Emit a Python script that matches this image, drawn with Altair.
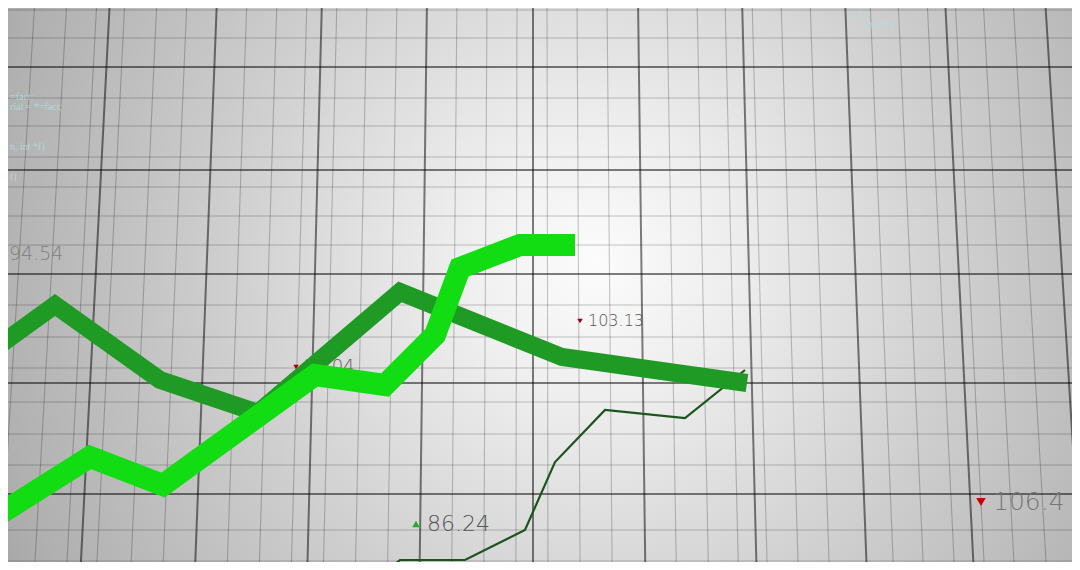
import altair as alt
import pandas as pd

# ---------------- data ----------------
# bright green price line
bright_t = [-10, 90, 163, 315, 385, 435, 460, 520, 575]
bright_v = [520, 457, 485, 375, 385, 335, 268, 245, 245]
# dark green price line
dark_t = [-10, 55, 160, 258, 400, 562, 747]
dark_v = [352, 305, 380, 413, 292, 357, 383]
# thin dark line
thin_t = [385, 400, 465, 525, 555, 605, 685, 745]
thin_v = [572, 560, 560, 530, 462, 410, 418, 370]

# quote labels
quote_text = ["94.54", "86.04", "103.13", "86.24", "106.4"]
quote_t = [9, 303, 588, 427, 993]
quote_v = [254, 367, 321, 524, 502]
quote_dir = ["none", "down", "down", "up", "down"]

# faint code fragments
code_text = ["else", "return f;", "=fact;", "rial = *=fact;", "n, int *f)", "f)"]
code_t = [855, 865, 10, 10, 10, 10]
code_v = [14, 25, 97, 107, 147, 177]

# grid lines (positions at the top edge for verticals)
major_vx = [5, 110, 217, 322, 427, 533, 638, 742, 845, 945, 1045]
minor_vx = [35, 67, 97, 125, 157, 187, 247, 277, 307, 337, 367, 397, 457, 487,
            517, 547, 577, 607, 667, 697, 725, 752, 781, 810, 870, 898, 927,
            955, 983, 1013, 1072]
major_hy = [67, 170, 274, 383, 494]
minor_hy = [10, 38, 98, 126, 157, 187, 216, 245, 305, 337, 368, 402, 434, 465,
            530, 561]

# ---------------- chart setup ----------------
W, H = 1064, 554
X0, X1 = 8, 1072
Y0, Y1 = 8, 562
xs = alt.Scale(domain=[X0, X1], nice=False, zero=False)
ys = alt.Scale(domain=[Y0, Y1], nice=False, zero=False, reverse=True)

def X(f):
    return alt.X(f, type="quantitative", scale=xs, axis=None)

def Y(f):
    return alt.Y(f, type="quantitative", scale=ys, axis=None)

# background with radial vignette
bg_df = pd.DataFrame({"a": [X0], "b": [X1], "c": [Y0], "d": [Y1]})
bg = alt.Chart(bg_df).mark_rect(
    color=alt.RadialGradient(
        gradient="radial",
        x1=0.55, y1=0.48, r1=0.0,
        x2=0.55, y2=0.48, r2=0.72,
        stops=[
            alt.GradientStop(color="#fcfcfc", offset=0.0),
            alt.GradientStop(color="#eeeeee", offset=0.18),
            alt.GradientStop(color="#cdcdcd", offset=0.5),
            alt.GradientStop(color="#b0b0b0", offset=0.8),
            alt.GradientStop(color="#959595", offset=1.0),
        ],
    )
).encode(x=X("a"), x2="b", y=Y("c"), y2="d")

def vlines(tops):
    rows = []
    for t in tops:
        rows.append({"xt": t, "xb": 533 + (t - 533) * 1.07, "yt": -2, "yb": 572})
    return pd.DataFrame(rows)

def hlines(ys_):
    return pd.DataFrame({"xl": [-5] * len(ys_), "xr": [1085] * len(ys_), "y": ys_})

minor_v = alt.Chart(vlines(minor_vx)).mark_rule(
    color="#000000", opacity=0.22, strokeWidth=1.1, clip=True
).encode(x=X("xt"), x2="xb", y=Y("yt"), y2="yb")
minor_h = alt.Chart(hlines(minor_hy)).mark_rule(
    color="#000000", opacity=0.22, strokeWidth=1.1, clip=True
).encode(x=X("xl"), x2="xr", y=Y("y"))
major_v = alt.Chart(vlines(major_vx)).mark_rule(
    color="#000000", opacity=0.5, strokeWidth=2.0, clip=True
).encode(x=X("xt"), x2="xb", y=Y("yt"), y2="yb")
major_h = alt.Chart(hlines(major_hy)).mark_rule(
    color="#000000", opacity=0.5, strokeWidth=2.0, clip=True
).encode(x=X("xl"), x2="xr", y=Y("y"))

code_df = pd.DataFrame({"t": code_t, "v": code_v, "s": code_text})
code = alt.Chart(code_df).mark_text(
    align="left", baseline="middle", font="Liberation Serif", fontSize=10,
    color="#b4dede", opacity=0.85
).encode(x=X("t"), y=Y("v"), text="s:N")

q = pd.DataFrame({"t": quote_t, "v": quote_v, "s": quote_text, "d": quote_dir})

def qlabel(i, size, color):
    return alt.Chart(q.iloc[[i]]).mark_text(
        align="left", baseline="middle", font="DejaVu Sans", fontWeight=300,
        fontSize=size, color=color
    ).encode(x=X("t"), y=Y("v"), text="s:N")

def qmark(i, shape, size, color, dx):
    d = q.iloc[[i]].copy()
    d["tm"] = d["t"] - dx
    return alt.Chart(d).mark_point(
        shape=shape, filled=True, size=size, color=color, opacity=1
    ).encode(x=X("tm"), y=Y("v"))

labels_back = alt.layer(
    qlabel(1, 18, "#5f5f5f"), qmark(1, "triangle-down", 30, "#b00000", 7),
)
labels_front = alt.layer(
    qlabel(0, 19, "#808080"),
    qlabel(2, 16, "#555555"), qmark(2, "triangle-down", 30, "#9a0000", 8),
    qlabel(3, 22, "#555555"), qmark(3, "triangle-up", 55, "#22b022", 11),
    qlabel(4, 25, "#777777"), qmark(4, "triangle-down", 90, "#cc0000", 12),
)

def series(tt, vv):
    return pd.DataFrame({"t": tt, "v": vv, "o": list(range(len(tt)))})

thin = alt.Chart(series(thin_t, thin_v)).mark_line(
    color="#1c551c", strokeWidth=2.2, clip=True, strokeJoin="miter"
).encode(x=X("t"), y=Y("v"), order="o:Q")
dark = alt.Chart(series(dark_t, dark_v)).mark_line(
    color="#1f9a24", strokeWidth=18, clip=True, strokeJoin="miter",
    strokeCap="butt", strokeMiterLimit=4
).encode(x=X("t"), y=Y("v"), order="o:Q")
bright = alt.Chart(series(bright_t, bright_v)).mark_line(
    color="#12dc12", strokeWidth=22, clip=True, strokeJoin="miter",
    strokeCap="butt", strokeMiterLimit=4
).encode(x=X("t"), y=Y("v"), order="o:Q")

chart = alt.layer(
    bg, minor_v, minor_h, major_v, major_h, code, labels_back,
    thin, dark, bright, labels_front
).properties(
    width=W, height=H, padding=0, autosize=alt.AutoSizeParams(type="none")
).configure_view(stroke=None).configure(background="#a8a8a8")

chart.save("out.html", embed_options={"renderer": "svg", "actions": False})
